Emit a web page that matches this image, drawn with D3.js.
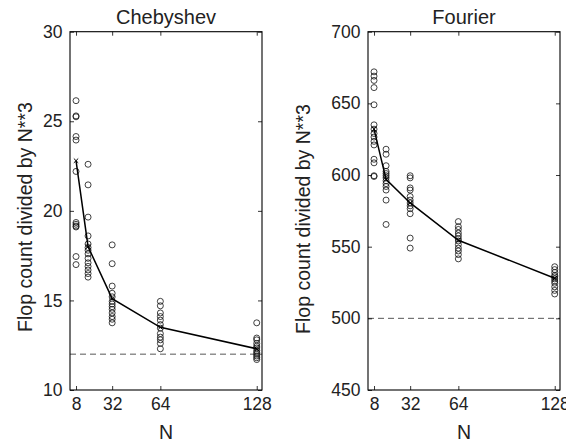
<!DOCTYPE html>
<html>
<head>
<meta charset="utf-8">
<script src="https://cdn.jsdelivr.net/npm/d3@7"></script>
<style>
  body { margin: 0; background: #fff; }
  svg { display: block; }
  text { font-family: "Liberation Sans", Arial, sans-serif; fill: #222; }
</style>
</head>
<body>
<svg id="chart" width="566" height="443"></svg>
<script>
// Problem sizes and x tick labels
const nValues = [8, 16, 32, 64, 128];
const xTicks = [8, 32, 64, 128];

// Chebyshev: individual runs per N (same order as nValues)
const chebSamples = [
    [26.15, 25.3, 25.25, 24.15, 23.95, 22.2, 19.35, 19.25, 19.15, 19.1, 17.45, 17.0],
    [22.6, 21.45, 19.65, 18.6, 18.15, 17.95, 17.8, 17.6, 17.35, 17.1, 16.9, 16.7, 16.5, 16.3],
    [18.1, 17.05, 15.8, 15.4, 15.2, 14.95, 14.8, 14.65, 14.5, 14.3, 14.1, 13.95, 13.75],
    [14.95, 14.7, 14.3, 14.1, 13.9, 13.65, 13.45, 13.15, 12.95, 12.8, 12.6, 12.3],
    [13.75, 12.9, 12.8, 12.6, 12.45, 12.35, 12.2, 12.1, 12.0, 11.9, 11.8, 11.7]
];
const chebLine = [22.8, 18.0, 15.1, 13.5, 12.3];
const chebLimit = 12;
const chebTicks = [10, 15, 20, 25, 30];

// Fourier: individual runs per N
const fourierSamples = [
    [672, 669, 666, 661, 649, 635, 632, 629, 626.5, 623.5, 621, 611, 608.5, 599.5, 599],
    [618, 614.5, 606.5, 602.5, 601, 599.5, 598, 596, 594, 592, 589.5, 582.5, 565.5],
    [599.5, 598, 591, 589.5, 585, 582.5, 580.5, 578.5, 576.5, 573, 556, 549],
    [567.5, 564, 562, 559.5, 557.5, 555.5, 554, 551.5, 549, 547, 544.5, 541.5],
    [536, 534, 532, 530, 529, 527.5, 526, 524.5, 522, 519.5, 517]
];
const fourierLine = [632, 597, 580.5, 554.5, 528];
const fourierLimit = 500;
const fourierTicks = [450, 500, 550, 600, 650, 700];

const svg = d3.select("#chart");
const plotTop = 31.7, plotBottom = 390;

function drawPanel(opts) {
    const g = svg.append("g");
    const x = d3.scaleLinear().domain([4, 131.5]).range([opts.left, opts.left + 192]);
    const y = d3.scaleLinear().domain(d3.extent(opts.ticks)).range([plotBottom, plotTop]);

    // dashed asymptote
    g.append("line")
        .attr("x1", x.range()[0]).attr("x2", x.range()[1])
        .attr("y1", y(opts.limit)).attr("y2", y(opts.limit))
        .attr("stroke", "#444").attr("stroke-width", 0.9)
        .attr("stroke-dasharray", "6,4");

    // runs
    const pts = [];
    opts.samples.forEach((arr, i) => arr.forEach(v => pts.push([nValues[i], v])));
    g.selectAll("circle").data(pts).enter().append("circle")
        .attr("cx", d => x(d[0]))
        .attr("cy", d => y(d[1]))
        .attr("r", 3)
        .attr("fill", "none")
        .attr("stroke", "#111")
        .attr("stroke-width", 0.8);

    // connecting line
    const line = d3.line().x((d, i) => x(nValues[i])).y(d => y(d));
    g.append("path").datum(opts.line)
        .attr("d", line)
        .attr("fill", "none")
        .attr("stroke", "#000")
        .attr("stroke-width", 1.5);
    g.selectAll(".mk").data(opts.line).enter().append("path")
        .attr("class", "mk")
        .attr("d", (d, i) => {
            const cx = x(nValues[i]), cy = y(d), s = 2.2;
            return `M${cx - s},${cy - s}L${cx + s},${cy + s}M${cx - s},${cy + s}L${cx + s},${cy - s}`;
        })
        .attr("stroke", "#000").attr("stroke-width", 1);

    // axes with inward ticks on all sides
    const tk = 4;
    g.append("g").attr("transform", `translate(0,${plotBottom})`)
        .call(d3.axisBottom(x).tickValues(xTicks).tickSize(-tk).tickPadding(8))
        .call(a => a.select(".domain").remove());
    g.append("g").attr("transform", `translate(0,${plotTop})`)
        .call(d3.axisTop(x).tickValues(xTicks).tickSize(-tk).tickFormat(""))
        .call(a => a.select(".domain").remove());
    g.append("g").attr("transform", `translate(${x.range()[0]},0)`)
        .call(d3.axisLeft(y).tickValues(opts.ticks).tickSize(-tk).tickPadding(7.5))
        .call(a => a.select(".domain").remove());
    g.append("g").attr("transform", `translate(${x.range()[1]},0)`)
        .call(d3.axisRight(y).tickValues(opts.ticks).tickSize(-tk).tickFormat(""))
        .call(a => a.select(".domain").remove());
    g.selectAll(".tick line").attr("stroke", "#000").attr("stroke-width", 0.8);
    g.selectAll(".tick text").style("font-size", "17.5px")
        .style("font-family", "Liberation Sans, Arial, sans-serif").attr("fill", "#222");

    // frame
    g.append("rect")
        .attr("x", x.range()[0]).attr("y", plotTop)
        .attr("width", 192).attr("height", plotBottom - plotTop)
        .attr("fill", "none").attr("stroke", "#000").attr("stroke-width", 1.1);

    // labels
    const cx = opts.left + 96;
    g.append("text").attr("x", cx).attr("y", 23.5)
        .attr("text-anchor", "middle").style("font-size", "20px").text(opts.title);
    g.append("text").attr("x", cx).attr("y", 438.5)
        .attr("text-anchor", "middle").style("font-size", "19.5px").text("N");
    g.append("text")
        .attr("transform", `translate(${opts.labelX},${opts.labelY}) rotate(-90)`)
        .attr("text-anchor", "middle").style("font-size", "19.5px")
        .text("Flop count divided by N**3");
}

drawPanel({ left: 70, title: "Chebyshev", samples: chebSamples, line: chebLine,
            limit: chebLimit, ticks: chebTicks, labelX: 31.5, labelY: 217 });
drawPanel({ left: 368, title: "Fourier", samples: fourierSamples, line: fourierLine,
            limit: fourierLimit, ticks: fourierTicks, labelX: 310, labelY: 219 });
</script>
</body>
</html>
